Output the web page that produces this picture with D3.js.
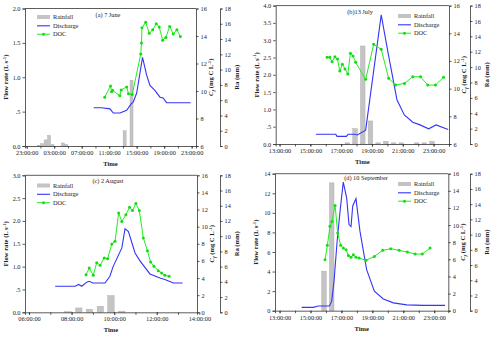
<!DOCTYPE html>
<html><head><meta charset="utf-8">
<script src="https://cdn.jsdelivr.net/npm/d3@7"></script>
<style>
html,body{margin:0;padding:0;background:#fff;}
svg{display:block;font-family:"Liberation Serif","Times New Roman",serif;}
</style></head>
<body><svg id="c" width="500" height="338"></svg>
<script>
// ---------- DATA (time in decimal hours of the event day) ----------
// (a) 7 June
const aRainT = [0.75, 1.25, 1.75, 2.25, 2.75, 4.25, 4.75, 13.25, 14.25];
const aRainV = [0.1, 0.3, 0.8, 1.4, 0.2, 0.4, 0.2, 2.0, 8.6];
const aQT = [8.75, 9.9, 11.11, 11.35, 11.6, 12.57, 13.54, 14.17, 14.51, 15.0, 15.85, 16.45, 16.93, 17.65, 18.39, 18.85, 19.35, 22.85];
const aQV = [0.556, 0.556, 0.54, 0.51, 0.48, 0.48, 0.52, 0.61, 0.64, 0.77, 1.29, 1.03, 0.88, 0.81, 0.71, 0.70, 0.63, 0.63];
const aDocT = [10.35, 11.2, 11.35, 11.5, 12.55, 12.75, 13.55, 13.8, 14.35, 15.6, 15.7, 15.77, 16.31, 16.83, 17.33, 17.85, 18.28, 18.78, 19.25, 19.8, 20.32, 20.85, 21.35];
const aDocV = [9.55, 10.37, 9.95, 10.05, 9.65, 10.08, 10.3, 9.8, 9.75, 12.7, 13.5, 14.6, 15.0, 14.2, 14.45, 14.9, 14.65, 13.7, 13.9, 14.7, 14.15, 14.45, 13.97];
// (b) 13 July
const bRainT = [17.4, 17.9, 18.4, 18.9, 19.4, 19.9, 20.4, 20.9, 21.9, 22.4, 22.9];
const bRainV = [0.15, 2.0, 12.75, 3.0, 0.15, 0.35, 0.15, 0.15, 0.15, 0.15, 0.35];
const bQT = [15.36, 16.65, 16.73, 17.34, 17.45, 17.88, 18.05, 18.59, 19.6, 20.03, 20.62, 21.1, 21.65, 22.08, 22.68, 23.16, 23.95];
const bQV = [0.28, 0.28, 0.22, 0.22, 0.28, 0.28, 0.26, 0.40, 3.73, 2.67, 1.28, 0.84, 0.63, 0.56, 0.44, 0.55, 0.42];
const bDocT = [16.09, 16.26, 16.41, 16.59, 16.76, 16.91, 17.08, 17.25, 17.43, 17.6, 17.77, 17.94, 18.59, 19.11, 19.6, 20.08, 20.53, 21.11, 21.65, 22.15, 22.62, 23.12, 23.65];
const bDocV = [12.26, 12.26, 11.95, 12.3, 12.14, 11.27, 11.76, 11.42, 11.06, 12.55, 12.36, 11.9, 10.67, 13.2, 12.84, 10.75, 10.26, 10.38, 10.86, 10.86, 10.26, 10.26, 10.82];
// (c) 2 August
const cRainT = [7.83, 8.34, 8.84, 9.35, 9.85, 10.36];
const cRainV = [0.1, 0.57, 0.4, 0.8, 2.2, 0.15];
const cQT = [7.23, 8.17, 8.33, 8.48, 8.71, 8.83, 8.99, 9.57, 9.8, 9.95, 10.36, 10.51, 10.67, 10.98, 11.22, 11.68, 12.15, 12.38, 12.78, 13.21];
const cQV = [0.57, 0.57, 0.61, 0.57, 0.66, 0.68, 0.64, 0.64, 0.79, 1.0, 1.41, 1.83, 1.77, 1.3, 1.12, 0.84, 0.75, 0.72, 0.64, 0.64];
const cDocT = [8.68, 8.83, 9.02, 9.18, 9.34, 9.53, 9.69, 9.89, 10.04, 10.21, 10.36, 10.55, 10.72, 10.86, 11.02, 11.18, 11.37, 11.56, 11.71, 11.87, 12.07, 12.23, 12.38, 12.58];
const cDocV = [4.4, 5.17, 4.32, 5.8, 5.49, 6.34, 6.26, 7.98, 8.29, 11.6, 10.6, 11.4, 12.26, 11.9, 12.7, 11.9, 8.68, 7.2, 5.88, 5.37, 4.86, 4.59, 4.32, 4.2];
// (d) 10 September
const dRainT = [15.87, 16.37];
const dRainV = [5.2, 16.8];
const dQT = [14.43, 15.18, 15.5, 16.22, 16.37, 16.52, 16.73, 16.91, 17.12, 17.34, 17.49, 17.62, 17.73, 17.94, 18.2, 18.63, 19.13, 19.71, 20.36, 21.22, 22.3, 23.7];
const dQV = [0.34, 0.34, 0.48, 0.48, 0.95, 3.0, 7.25, 10.15, 13.15, 11.5, 8.8, 8.6, 10.7, 11.45, 8.1, 4.2, 2.0, 1.2, 0.8, 0.6, 0.54, 0.54];
const dDocT = [15.94, 16.09, 16.26, 16.39, 16.59, 16.76, 16.95, 17.12, 17.3, 17.45, 17.62, 17.77, 17.94, 18.14, 18.59, 19.13, 19.67, 20.19, 20.73, 21.26, 21.76, 22.23, 22.73];
const dDocV = [5.96, 7.63, 9.85, 10.43, 12.3, 9.07, 7.63, 7.32, 7.12, 6.46, 6.23, 6.54, 6.23, 6.15, 5.88, 6.34, 7.05, 7.24, 7.05, 6.85, 6.62, 6.62, 7.32];

// tick values
const aTimeTicks = [-1, 3, 7, 11, 15, 19, 23];
const bTimeTicks = [13, 15, 17, 19, 21, 23];
const cTimeTicks = [6, 8, 10, 12, 14];
const dTimeTicks = [13, 15, 17, 19, 21, 23];
const aFlowTicks = [0, 0.5, 1.0, 1.5, 2.0];
const bFlowTicks = [0, 0.5, 1.0, 1.5, 2.0, 2.5, 3.0, 3.5, 4.0];
const cFlowTicks = [0, 0.5, 1.0, 1.5, 2.0, 2.5, 3.0];
const dFlowTicks = [0, 2, 4, 6, 8, 10, 12, 14];
const aCfTicks = [6, 8, 10, 12, 14, 16];
const bCfTicks = [6, 8, 10, 12, 14, 16];
const cCfTicks = [0, 2, 4, 6, 8, 10, 12, 14, 16];
const dCfTicks = [0, 2, 4, 6, 8, 10, 12, 14, 16];
const raTicks = [0, 2, 4, 6, 8, 10, 12, 14, 16, 18];
const titles = ["(a) 7 June", "(b)13 July", "(c) 2 August", "(d) 10 September"];
const legendLabels = ["Rainfall", "Discharge", "DOC"];

// ---------- LAYOUT ----------
const panels = [
  {title: titles[0], x0: 25, x1: 196, y0: 8.5, y1: 146, tDom: [-1.247, 23.63], tTicks: aTimeTicks, tMinor: 2,
   fDom: [0, 2], fTicks: aFlowTicks, cDom: [6, 16], cTicks: aCfTicks, raX: 220, barW: 0.44,
   rainT: aRainT, rainV: aRainV, qT: aQT, qV: aQV, docT: aDocT, docV: aDocV,
   titleX: 108, titleY: 15, legX: 37, legY: 17, fmtDot: true},
  {title: titles[1], x0: 275.7, x1: 449, y0: 5.6, y1: 144, tDom: [12.75, 24], tTicks: bTimeTicks, tMinor: 1,
   fDom: [0, 4], fTicks: bFlowTicks, cDom: [6, 16], cTicks: bCfTicks, raX: 470, barW: 0.3,
   rainT: bRainT, rainV: bRainV, qT: bQT, qV: bQV, docT: bDocT, docV: bDocV,
   titleX: 360, titleY: 12, legX: 398, legY: 16, fmtDot: true},
  {title: titles[2], x0: 25, x1: 197, y0: 175.3, y1: 312.3, tDom: [5.812, 13.89], tTicks: cTimeTicks, tMinor: 1,
   fDom: [0, 3], fTicks: cFlowTicks, cDom: [0, 16], cTicks: cCfTicks, raX: 220, barW: 0.3,
   rainT: cRainT, rainV: cRainV, qT: cQT, qV: cQV, docT: cDocT, docV: cDocV,
   titleX: 108, titleY: 181, legX: 37, legY: 185.5, fmtDot: true},
  {title: titles[3], x0: 275, x1: 448.3, y0: 173.7, y1: 310.7, tDom: [12.705, 23.91], tTicks: dTimeTicks, tMinor: 1,
   fDom: [0, 14], fTicks: dFlowTicks, cDom: [0, 16], cTicks: dCfTicks, raX: 470, barW: 0.3,
   rainT: dRainT, rainV: dRainV, qT: dQT, qV: dQV, docT: dDocT, docV: dDocV,
   titleX: 366, titleY: 177.5, legX: 398, legY: 184, fmtDot: false}
];

const svg = d3.select("#c");
const AX = "#333";
const TICK_FS = "6.3px";
const fmtTime = h => String(((h % 24) + 24) % 24).padStart(2, "0") + ":00:00";
const fmtFlow = v => v === 0 ? "0.0" : (v === 0.5 ? ".5" : d3.format(".1f")(v));

function styleAxis(g) {
  g.selectAll("path,line").attr("stroke", AX).attr("stroke-width", 0.8);
  g.selectAll("text").attr("fill", "#222").style("font-size", TICK_FS)
    .style("font-family", '"Liberation Serif","Times New Roman",serif');
}

panels.forEach(p => {
  const x = d3.scaleLinear().domain(p.tDom).range([p.x0, p.x1]);
  const yF = d3.scaleLinear().domain(p.fDom).range([p.y1, p.y0]);
  const yC = d3.scaleLinear().domain(p.cDom).range([p.y1, p.y0]);
  const yR = d3.scaleLinear().domain([0, 18]).range([p.y1, p.y0]);
  const g = svg.append("g");

  // rainfall bars
  const bw = x(p.tDom[0] + p.barW) - x(p.tDom[0]);
  g.selectAll("rect.rain").data(p.rainT.map((t, i) => ({t, v: p.rainV[i]}))).join("rect")
    .attr("x", d => x(d.t) - bw / 2).attr("width", bw)
    .attr("y", d => yR(d.v)).attr("height", d => yR(0) - yR(d.v))
    .attr("fill", "#c4c4c4").attr("stroke", "#aaa").attr("stroke-width", 0.4);

  // discharge
  g.append("path").datum(p.qT.map((t, i) => [t, p.qV[i]]))
    .attr("d", d3.line().x(d => x(d[0])).y(d => yF(d[1])))
    .attr("fill", "none").attr("stroke", "#3535f5").attr("stroke-width", 1.1);

  // DOC
  const doc = p.docT.map((t, i) => [t, p.docV[i]]);
  g.append("path").datum(doc)
    .attr("d", d3.line().x(d => x(d[0])).y(d => yC(d[1])))
    .attr("fill", "none").attr("stroke", "#22ee22").attr("stroke-width", 1);
  g.selectAll("circle.doc").data(doc).join("circle")
    .attr("cx", d => x(d[0])).attr("cy", d => yC(d[1])).attr("r", 1.5)
    .attr("fill", "#11dd11");

  // frame (top line)
  g.append("line").attr("x1", p.x0).attr("x2", p.x1).attr("y1", p.y0).attr("y2", p.y0)
    .attr("stroke", AX).attr("stroke-width", 0.8);

  // axes
  const minorTicks = d3.range(Math.ceil(p.tDom[0]), p.tDom[1] + 0.001, p.tMinor);
  g.append("g").attr("transform", `translate(0,${p.y1})`)
    .call(d3.axisBottom(x).tickValues(minorTicks).tickSize(2.5).tickFormat(""))
    .call(styleAxis);
  g.append("g").attr("transform", `translate(0,${p.y1})`)
    .call(d3.axisBottom(x).tickValues(p.tTicks).tickSize(2.5).tickPadding(2).tickFormat(fmtTime))
    .call(styleAxis).call(a => a.select(".domain").remove());
  g.append("g").attr("transform", `translate(${p.x0},0)`)
    .call(d3.axisLeft(yF).tickValues(p.fTicks).tickSize(2.5).tickPadding(2)
      .tickFormat(p.fmtDot ? fmtFlow : d3.format("d")))
    .call(styleAxis);
  g.append("g").attr("transform", `translate(${p.x1},0)`)
    .call(d3.axisRight(yC).tickValues(p.cTicks).tickSize(2.5).tickPadding(2).tickFormat(d3.format("d")))
    .call(styleAxis);
  g.append("g").attr("transform", `translate(${p.raX},0)`)
    .call(d3.axisRight(yR).tickValues(raTicks).tickSize(2.5).tickPadding(2).tickFormat(d3.format("d")))
    .call(styleAxis);

  // axis titles
  const midY = (p.y0 + p.y1) / 2;
  const fl = g.append("text").attr("transform", `translate(${p.x0 - 17},${midY}) rotate(-90)`)
    .attr("text-anchor", "middle").style("font-size", "6.6px").style("font-weight", "bold").attr("fill", "#222");
  fl.append("tspan").text("Flow rate (L s");
  fl.append("tspan").text("-1").attr("dy", -2.5).style("font-size", "4.8px");
  fl.append("tspan").text(")").attr("dy", 2.5);

  const cf = g.append("text").attr("transform", `translate(${p.x1 + 17},${midY}) rotate(-90)`)
    .attr("text-anchor", "middle").style("font-size", "6.6px").style("font-weight", "bold").attr("fill", "#222");
  cf.append("tspan").text("C").style("font-style", "italic");
  cf.append("tspan").text("f").style("font-style", "italic").style("font-size", "4.8px").attr("dy", 1.5);
  cf.append("tspan").text(" (mg C L").attr("dy", -1.5);
  cf.append("tspan").text("-1").attr("dy", -2.5).style("font-size", "4.8px");
  cf.append("tspan").text(")").attr("dy", 2.5);

  g.append("text").attr("transform", `translate(${p.raX + 19},${midY}) rotate(-90)`)
    .attr("text-anchor", "middle").style("font-size", "6.6px").style("font-weight", "bold").attr("fill", "#222")
    .text("Ra (mm)");

  g.append("text").attr("x", (p.x0 + p.x1) / 2).attr("y", p.y1 + 20)
    .attr("text-anchor", "middle").style("font-size", "6.6px").style("font-weight", "bold").attr("fill", "#222")
    .text("Time");

  // panel title
  g.append("text").attr("x", p.titleX).attr("y", p.titleY + 2.2).attr("text-anchor", "middle")
    .style("font-size", "6.3px").attr("fill", "#222").text(p.title);

  // legend
  const lg = g.append("g").attr("transform", `translate(${p.legX},${p.legY})`);
  lg.append("rect").attr("x", 0).attr("y", -2).attr("width", 13).attr("height", 4).attr("fill", "#c4c4c4");
  lg.append("line").attr("x1", 0).attr("x2", 13).attr("y1", 8.8).attr("y2", 8.8).attr("stroke", "#3535f5").attr("stroke-width", 1.1);
  lg.append("line").attr("x1", 0).attr("x2", 13).attr("y1", 17.2).attr("y2", 17.2).attr("stroke", "#22ee22").attr("stroke-width", 1);
  lg.append("circle").attr("cx", 6.5).attr("cy", 17.2).attr("r", 1.5).attr("fill", "#11dd11");
  legendLabels.forEach((l, i) => {
    lg.append("text").attr("x", 16).attr("y", i * 8.6 + 2.2).style("font-size", "6.3px").attr("fill", "#222").text(l);
  });
});
</script></body></html>
